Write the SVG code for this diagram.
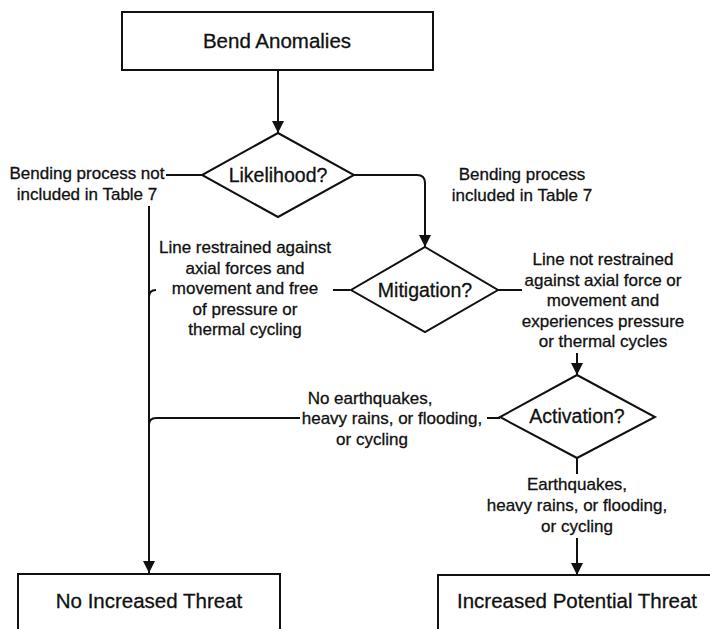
<svg xmlns="http://www.w3.org/2000/svg" width="710" height="629" viewBox="0 0 710 629">
<defs>
<style>
.box{fill:#fff;stroke:#111;stroke-width:2}
.dia{fill:#fff;stroke:#111;stroke-width:2}
.ln{fill:none;stroke:#111;stroke-width:2}
.t{font-family:"Liberation Sans",Arial,sans-serif;fill:#111;stroke:#111;stroke-width:0.3;text-anchor:middle}
.bt{font-size:20.5px}
.dt{font-size:19.5px}
.lb{font-size:17px}
</style>
<marker id="arr" markerUnits="userSpaceOnUse" markerWidth="12" markerHeight="14" viewBox="0 0 12 14" refX="12" refY="7" orient="auto">
<path d="M0,1 L12,7 L0,13 Z" fill="#111"/>
</marker>
</defs>
<rect width="710" height="629" fill="#fff"/>

<g id="connectors">
<line class="ln" x1="278" y1="70" x2="278" y2="133" marker-end="url(#arr)"/>
<line class="ln" x1="202" y1="175" x2="166" y2="175"/>
<line class="ln" x1="149" y1="206" x2="149" y2="573" marker-end="url(#arr)"/>
<path class="ln" d="M354,175 H417 Q425,175 425,183 V247" marker-end="url(#arr)"/>
<line class="ln" x1="350" y1="290" x2="333" y2="290"/>
<path class="ln" d="M156,290 Q149,290 149,297"/>
<line class="ln" x1="498" y1="290" x2="522" y2="290"/>
<line class="ln" x1="577" y1="353" x2="577" y2="375" marker-end="url(#arr)"/>
<line class="ln" x1="500" y1="418" x2="487" y2="418"/>
<path class="ln" d="M300,418 H156 Q149,418 149,425"/>
<line class="ln" x1="577" y1="458" x2="577" y2="474"/>
<line class="ln" x1="577" y1="538" x2="577" y2="575" marker-end="url(#arr)"/>
</g>

<g id="bend-anomalies">
<rect class="box" x="122" y="12" width="311" height="58"/>
<text class="t bt" x="277" y="48">Bend Anomalies</text>
</g>

<g id="likelihood">
<polygon class="dia" points="278,133 354,175 278,217 202,175"/>
<text class="t dt" x="278" y="182">Likelihood?</text>
</g>

<g id="label-not-included">
<text class="t lb" x="87" y="179">Bending process not</text>
<text class="t lb" x="87" y="199.5">included in Table 7</text>
</g>

<g id="label-included">
<text class="t lb" x="522" y="180">Bending process</text>
<text class="t lb" x="522" y="200.5">included in Table 7</text>
</g>

<g id="mitigation">
<polygon class="dia" points="425,247 498,290 425,332 351,290"/>
<text class="t dt" x="425" y="297">Mitigation?</text>
</g>

<g id="label-restrained">
<text class="t lb" x="245" y="253">Line restrained against</text>
<text class="t lb" x="245" y="273.5">axial forces and</text>
<text class="t lb" x="245" y="294">movement and free</text>
<text class="t lb" x="245" y="314.5">of pressure or</text>
<text class="t lb" x="245" y="335">thermal cycling</text>
</g>

<g id="label-not-restrained">
<text class="t lb" x="603" y="265">Line not restrained</text>
<text class="t lb" x="603" y="285.5">against axial force or</text>
<text class="t lb" x="603" y="306">movement and</text>
<text class="t lb" x="603" y="326.5">experiences pressure</text>
<text class="t lb" x="603" y="347">or thermal cycles</text>
</g>

<g id="activation">
<polygon class="dia" points="577,375 655,417 577,458 500,417"/>
<text class="t dt" x="577" y="423">Activation?</text>
</g>

<g id="label-no-earthquakes">
<text class="t lb" x="370" y="404">No earthquakes,</text>
<text class="t lb" x="392" y="424">heavy rains, or flooding,</text>
<text class="t lb" x="372" y="444.5">or cycling</text>
</g>

<g id="label-earthquakes">
<text class="t lb" x="577" y="490">Earthquakes,</text>
<text class="t lb" x="577" y="511">heavy rains, or flooding,</text>
<text class="t lb" x="577" y="532">or cycling</text>
</g>

<g id="no-increased-threat">
<rect class="box" x="18" y="574" width="262" height="80"/>
<text class="t bt" x="149" y="608">No Increased Threat</text>
</g>

<g id="increased-potential-threat">
<rect class="box" x="438" y="575" width="290" height="80"/>
<text class="t bt" x="577" y="608">Increased Potential Threat</text>
</g>
</svg>
